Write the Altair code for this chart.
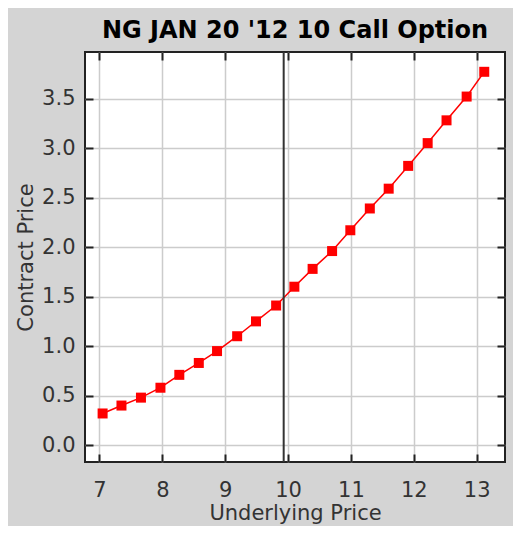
import altair as alt
import pandas as pd

underlying = [7.05, 7.35, 7.66, 7.97, 8.27, 8.58, 8.87, 9.19, 9.49, 9.81, 10.10,
              10.39, 10.70, 10.99, 11.30, 11.60, 11.91, 12.22, 12.52, 12.84, 13.12]
contract = [0.32, 0.40, 0.48, 0.58, 0.71, 0.83, 0.95, 1.10, 1.25, 1.41, 1.60,
            1.78, 1.96, 2.17, 2.39, 2.59, 2.82, 3.05, 3.28, 3.52, 3.77]
current_price = [9.93]
x_ticks = [7, 8, 9, 10, 11, 12, 13]
y_ticks = [0.0, 0.5, 1.0, 1.5, 2.0, 2.5, 3.0, 3.5]
x_domain = [6.77, 13.45]
y_domain = [-0.17, 3.97]

FONT = "DejaVu Sans"
df = pd.DataFrame({"Underlying Price": underlying, "Contract Price": contract})
df_now = pd.DataFrame({"price": current_price, "v": [1.0]})

xscale = alt.Scale(domain=x_domain, nice=False, zero=False)
yscale = alt.Scale(domain=y_domain, nice=False, zero=False)

common_axis = dict(domain=False, tickSize=8, tickWidth=2, tickColor="#222222",
                   offset=-8, labelFont=FONT, labelFontSize=21, labelColor="#333333",
                   titleFont=FONT, titleColor="#333333",
                   titleFontWeight="normal", gridColor="#cccccc", gridWidth=1.5)

x_main = alt.X("Underlying Price:Q", scale=xscale,
               axis=alt.Axis(orient="bottom", values=x_ticks, format="d", grid=True,
                             labelPadding=17, titlePadding=2, titleFontSize=21,
                             **common_axis))
y_main = alt.Y("Contract Price:Q", scale=yscale,
               axis=alt.Axis(orient="left", values=y_ticks, format=".1f", grid=True,
                             labelPadding=10, titlePadding=5, titleFontSize=21,
                             **common_axis))

line = alt.Chart(df).mark_line(
    color="#ff0000", strokeWidth=1.5,
    point=alt.OverlayMarkDef(shape="square", filled=True, size=100, color="#ff0000", opacity=1),
).encode(x=x_main, y=y_main)

x_top = alt.X("price:Q", scale=xscale,
              axis=alt.Axis(orient="top", values=x_ticks, labels=False, title=None,
                            grid=False, domain=False, tickSize=8, tickWidth=2,
                            tickColor="#222222", offset=-8))
y_right = alt.Y("v:Q", scale=yscale,
                axis=alt.Axis(orient="right", values=y_ticks, labels=False, title=None,
                              grid=False, domain=False, tickSize=8, tickWidth=2,
                              tickColor="#222222", offset=-8))

rule = alt.Chart(df_now).mark_rule(color="#333333", strokeWidth=2).encode(
    x=x_top, y=alt.value(0), y2=alt.value(410)
)
right_ticks = alt.Chart(df_now).mark_point(opacity=0).encode(
    x=alt.X("price:Q", scale=xscale, axis=None), y=y_right
)

chart = alt.layer(line, rule, right_ticks).resolve_axis(
    x="independent", y="independent"
).properties(
    width=420, height=410,
    autosize=alt.AutoSizeParams(type="none"),
    padding={"left": 77, "top": 44, "right": 8, "bottom": 64},
    background="#d4d4d4",
    title=alt.TitleParams("NG JAN 20 '12 10 Call Option", font=FONT, fontSize=24,
                          fontWeight="bold", color="#000000", anchor="middle", offset=8),
).configure_view(fill="white", stroke="#222222", strokeWidth=2)

chart.save("out.html", embed_options={"renderer": "svg", "actions": False})
